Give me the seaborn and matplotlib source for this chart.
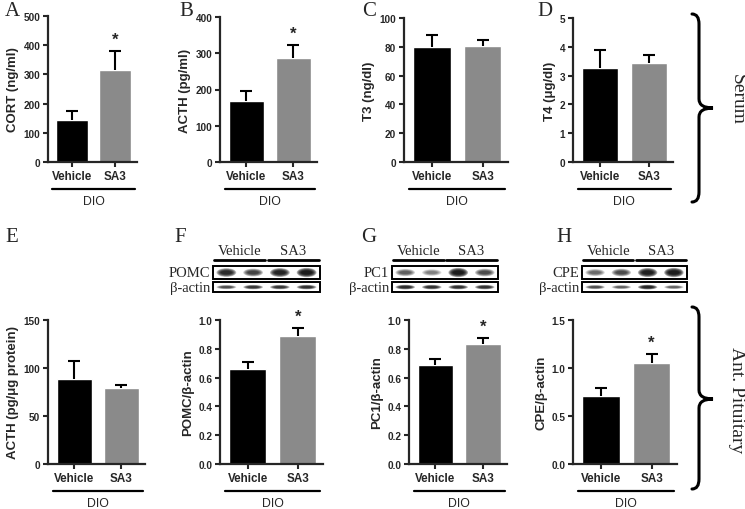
import numpy as np
import pandas as pd
import matplotlib
matplotlib.use("Agg")
import matplotlib.pyplot as plt
import seaborn as sns
from matplotlib.patches import Rectangle, Ellipse, PathPatch
from matplotlib.path import Path
from matplotlib.transforms import blended_transform_factory

# ---- data ----
groups = ["Vehicle", "SA3"]

cort_mean = [145, 315]
cort_sem = [28, 65]
acth_mean = [167, 287]
acth_sem = [30, 37]
t3_mean = [80, 80.5]
t3_sem = [8.5, 4]
t4_mean = [3.28, 3.45]
t4_sem = [0.6, 0.27]
acth_pit_mean = [89, 79]
acth_pit_sem = [18, 3]
pomc_mean = [0.66, 0.89]
pomc_sem = [0.045, 0.055]
pc1_mean = [0.69, 0.835]
pc1_sem = [0.04, 0.04]
cpe_mean = [0.71, 1.05]
cpe_sem = [0.08, 0.10]

# relative band strength on the blots (4 lanes: 2 vehicle, 2 SA3)
pomc_bands = [0.85, 0.65, 0.9, 1.0]
pomc_actin = [0.6, 0.75, 0.75, 0.8]
pc1_bands = [0.5, 0.35, 1.0, 0.6]
pc1_actin = [0.85, 0.8, 0.8, 0.8]
cpe_bands = [0.45, 0.6, 0.95, 1.0]
cpe_actin = [0.6, 0.5, 0.9, 0.5]

W, H = 745, 510
sns.set_style("ticks")
plt.rcParams["font.family"] = ["Liberation Sans", "DejaVu Sans"]
plt.rcParams["axes.linewidth"] = 1.6

fig = plt.figure(figsize=(W / 100, H / 100), dpi=100)
fig.patch.set_facecolor("white")

palette = {"Vehicle": "black", "SA3": "#8a8a8a"}
SERIF = ["Liberation Serif", "DejaVu Serif"]


def px_axes(l, r, t, b):
    return fig.add_axes([l / W, 1 - b / H, (r - l) / W, (b - t) / H])


def bar_panel(box, mean, sem, ylabel, yticks, fmt, star):
    ax = px_axes(*box)
    df = pd.DataFrame({"group": groups, "value": mean})
    sns.barplot(data=df, x="group", y="value", hue="group", palette=palette,
                errorbar=None, width=0.74, saturation=1, legend=False, ax=ax)
    eb = ax.errorbar(x=[0, 1], y=mean, yerr=[[0, 0], sem], fmt="none",
                     ecolor="black", elinewidth=1.5, capsize=4, capthick=1.5)
    eb[1][0].set_visible(False)
    ax.set_xlim(-0.55, 1.5)
    ax.set_ylim(0, yticks[-1])
    ax.set_yticks(yticks)
    ax.set_yticklabels([fmt.format(v) for v in yticks], fontsize=7.2, fontweight="bold")
    ax.set_xticks([0, 1])
    ax.set_xticklabels(groups, fontsize=8.4, fontweight="bold")
    ax.set_xlabel("")
    ax.set_ylabel(ylabel, fontsize=9.5, fontweight="bold", labelpad=3)
    ax.tick_params(direction="out", length=3.5, width=1.5, pad=2)
    sns.despine(ax=ax)
    tr = blended_transform_factory(ax.transData, ax.transAxes)
    ax.plot([-0.45, 1.45], [-0.185, -0.185], color="black", lw=1.6,
            transform=tr, clip_on=False)
    ax.text(0.5, -0.27, "DIO", transform=tr, ha="center", va="center", fontsize=8.8)
    if star:
        ax.annotate("*", xy=(1, mean[1] + sem[1]), xytext=(0, 3),
                    textcoords="offset points", ha="center", va="bottom",
                    fontsize=12, fontweight="bold")
    return ax


def band(ax, lane, yc, strength, h):
    for k in range(6):
        ax.add_patch(Ellipse((lane, yc), 0.74 * (1 - 0.09 * k), h * (0.55 + 0.45 * strength) * (1 - 0.12 * k),
                             facecolor="black", edgecolor="none", alpha=0.3 * strength))


def blot_panel(box, name, target, actin):
    l, r, t, b = box
    ax = px_axes(l, r, t, b)
    ax.set_xlim(-0.5, 3.5)
    ax.set_ylim(0, 1)
    ax.axis("off")
    ax.add_patch(Rectangle((-0.5, 0.45), 4, 0.42, fill=False, lw=1.4, ec="black", clip_on=False))
    ax.add_patch(Rectangle((-0.5, 0.03), 4, 0.32, fill=False, lw=1.4, ec="black", clip_on=False))
    for lane in range(4):
        band(ax, lane, 0.66, target[lane], 0.3)
        band(ax, lane, 0.19, actin[lane], 0.16)
    ax.text(-0.6, 0.66, name, ha="right", va="center", fontsize=10.5, family=SERIF)
    ax.text(-0.6, 0.19, "β-actin", ha="right", va="center", fontsize=10.5, family=SERIF)
    for lo, hi, lab in [(-0.45, 1.45, "Vehicle"), (1.55, 3.45, "SA3")]:
        ax.plot([lo, hi], [1.08, 1.08], color="black", lw=2, clip_on=False)
        ax.text((lo + hi) / 2, 1.17, lab, ha="center", va="bottom", fontsize=10.5, family=SERIF)


def brace(x0, x1, y0, y1, ym):
    xs = x0 + 7
    pts = [(x0, y0), (xs, y0), (xs, y0 + 10), (xs, ym - 9), (xs, ym), (x1, ym),
           (xs, ym), (xs, ym + 9), (xs, y1 - 10), (xs, y1), (x0, y1)]
    codes = [Path.MOVETO, Path.CURVE3, Path.CURVE3, Path.LINETO, Path.CURVE3, Path.CURVE3,
             Path.CURVE3, Path.CURVE3, Path.LINETO, Path.CURVE3, Path.CURVE3]
    verts = [(x / W, 1 - y / H) for x, y in pts]
    fig.add_artist(PathPatch(Path(verts, codes), transform=fig.transFigure,
                             fill=False, lw=2.2, ec="black", capstyle="round"))


ybase = 465
bar_panel((48, 137, 17, 163), cort_mean, cort_sem, "CORT (ng/ml)",
          [0, 100, 200, 300, 400, 500], "{:g}", True)
bar_panel((220, 317, 18, 163), acth_mean, acth_sem, "ACTH (pg/ml)",
          [0, 100, 200, 300, 400], "{:g}", True)
bar_panel((404, 508, 19, 163), t3_mean, t3_sem, "T3 (ng/dl)",
          [0, 20, 40, 60, 80, 100], "{:g}", False)
bar_panel((573, 673, 19, 163), t4_mean, t4_sem, "T4 (μg/dl)",
          [0, 1, 2, 3, 4, 5], "{:g}", False)
bar_panel((48, 145, 321, ybase), acth_pit_mean, acth_pit_sem, "ACTH (pg/μg protein)",
          [0, 50, 100, 150], "{:g}", False)
bar_panel((220, 323, 321, ybase), pomc_mean, pomc_sem, "POMC/β-actin",
          [0, 0.2, 0.4, 0.6, 0.8, 1.0], "{:.1f}", True)
bar_panel((409, 507, 321, ybase), pc1_mean, pc1_sem, "PC1/β-actin",
          [0, 0.2, 0.4, 0.6, 0.8, 1.0], "{:.1f}", True)
bar_panel((573, 677, 321, ybase), cpe_mean, cpe_sem, "CPE/β-actin",
          [0, 0.5, 1.0, 1.5], "{:.1f}", True)

blot_panel((213, 320, 263, 294), "POMC", pomc_bands, pomc_actin)
blot_panel((392, 498, 263, 294), "PC1", pc1_bands, pc1_actin)
blot_panel((582, 687, 263, 294), "CPE", cpe_bands, cpe_actin)

for letter, x, y in [("A", 5, 12), ("B", 179, 12), ("C", 362, 12), ("D", 537, 12),
                     ("E", 5, 237), ("F", 174, 237), ("G", 361, 237), ("H", 556, 237)]:
    fig.text(x / W, 1 - y / H, letter, fontsize=15, family=SERIF, ha="left", va="center")

brace(692, 713, 15, 203, 109)
brace(692, 713, 308, 490, 400)
fig.text(737 / W, 1 - 100 / H, "Serum", rotation=-90, fontsize=14, family=SERIF,
         ha="center", va="center")
fig.text(737 / W, 1 - 400 / H, "Ant. Pituitary", rotation=-90, fontsize=14, family=SERIF,
         ha="center", va="center")

fig.savefig("out.png", dpi=100, facecolor="white")
